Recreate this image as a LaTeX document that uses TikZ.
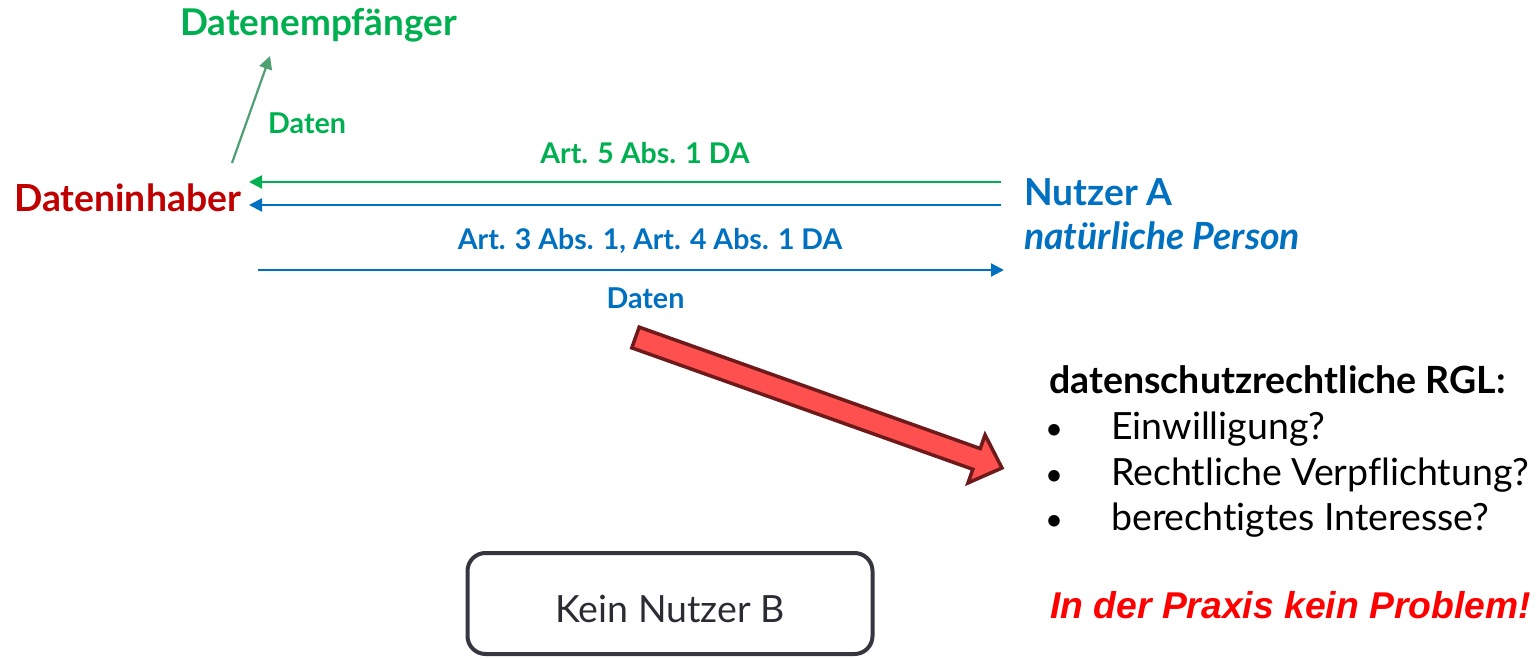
\documentclass[tikz,border=0pt]{standalone}
\usepackage{fontspec}
\setmainfont[Ligatures=NoCommon]{Lato}
\newfontfamily\arialfont{Liberation Sans}
\usetikzlibrary{arrows.meta}
\definecolor{cgreen}{HTML}{00B050}
\definecolor{cgreenm}{HTML}{4EA072}
\definecolor{cblue}{HTML}{0070C0}
\definecolor{cred}{HTML}{C00000}
\definecolor{bred}{HTML}{FF5050}
\definecolor{bredd}{HTML}{6E1A1A}
\definecolor{boxc}{HTML}{363640}
\tikzset{
  lbl/.style={inner sep=0pt, anchor=base},
  lblw/.style={inner sep=0pt, anchor=base west},
  conn/.style={line width=2.2pt, -{Triangle[length=13pt,width=13pt]}},
}
\newcommand{\fs}[1]{\fontsize{#1}{#1}\selectfont}
\begin{document}
\begin{tikzpicture}[x=1pt,y=-1pt]
\useasboundingbox (0,0) rectangle (1538,658);
% nodes
\node[lblw, text=cgreen] (empf) at (180,36) {\fs{36.9}\bfseries Datenempfänger};
\node[lblw, text=cred] (inh) at (14,211) {\fs{37.3}\bfseries Dateninhaber};
\node[lblw, text=cblue] (nutzA) at (1024,205) {\fs{37.2}\bfseries Nutzer A};
\node[lblw, text=cblue] (natp) at (1024,249) {\fs{37.4}\bfseries\itshape natürliche Person};
% connector end points
\coordinate (dg0) at (232,163);
\coordinate (dg1) at (270,56);
\coordinate (g0) at (1001,182);
\coordinate (g1) at (249,182);
\coordinate (b0) at (1001,205);
\coordinate (b1) at (249,205);
\coordinate (c0) at (258,270);
\coordinate (c1) at (1004,270);
% connectors
\draw[conn, draw=cgreenm, fill=cgreenm] (dg0) -- (dg1);
\draw[conn, draw=cgreen, fill=cgreen] (g0) -- (g1);
\draw[conn, draw=cblue, fill=cblue] (b0) -- (b1);
\draw[conn, draw=cblue, fill=cblue] (c0) -- (c1);
% labels
\node[lblw, text=cgreen] (ld1) at (268,133) {\fs{28.7}\bfseries Daten};
\node[lbl, text=cgreen] (la5) at (645,163) {\fs{28.5}\bfseries Art. 5 Abs. 1 DA};
\node[lbl, text=cblue] (la3) at (650,249) {\fs{28.5}\bfseries Art. 3 Abs. 1, Art. 4 Abs. 1 DA};
\node[lbl, text=cblue] (ld2) at (645.5,308) {\fs{28.7}\bfseries Daten};
% block arrow
\begin{scope}[shift={(635.5,337.5)}, rotate=-19.6]
\draw[line width=3.5pt, draw=bredd, fill=bred, line join=miter]
  (0,-11) -- (362,-11) -- (362,-25.5) -- (389,0) -- (362,25.5) -- (362,11) -- (0,11) -- cycle;
\end{scope}
% right text
\node[lblw] (rgl) at (1049,393) {\fs{37.5}\bfseries datenschutzrechtliche RGL:};
\foreach \yy/\tx [count=\i] in {439/Einwilligung?, 485/Rechtliche Verpflichtung?, 530/berechtigtes Interesse?}{
  \node[lbl] (bul\i) at (1054,\yy) {\fs{31}•};
  \node[lblw] (it\i) at (1111,\yy) {\fs{37.5}\tx};
}
\node[lblw, text=red] (prax) at (1050,618) {\fs{37.3}\arialfont\bfseries\itshape In der Praxis kein Problem!};
% box
\node[draw=boxc, line width=4pt, rounded corners=18pt, minimum width=405pt, minimum height=101pt, inner sep=0pt, text height=37pt, text depth=0pt, text=boxc!80!black] (kein) at (670,603.5) {\fs{37.5}Kein Nutzer B};
\end{tikzpicture}
\end{document}
